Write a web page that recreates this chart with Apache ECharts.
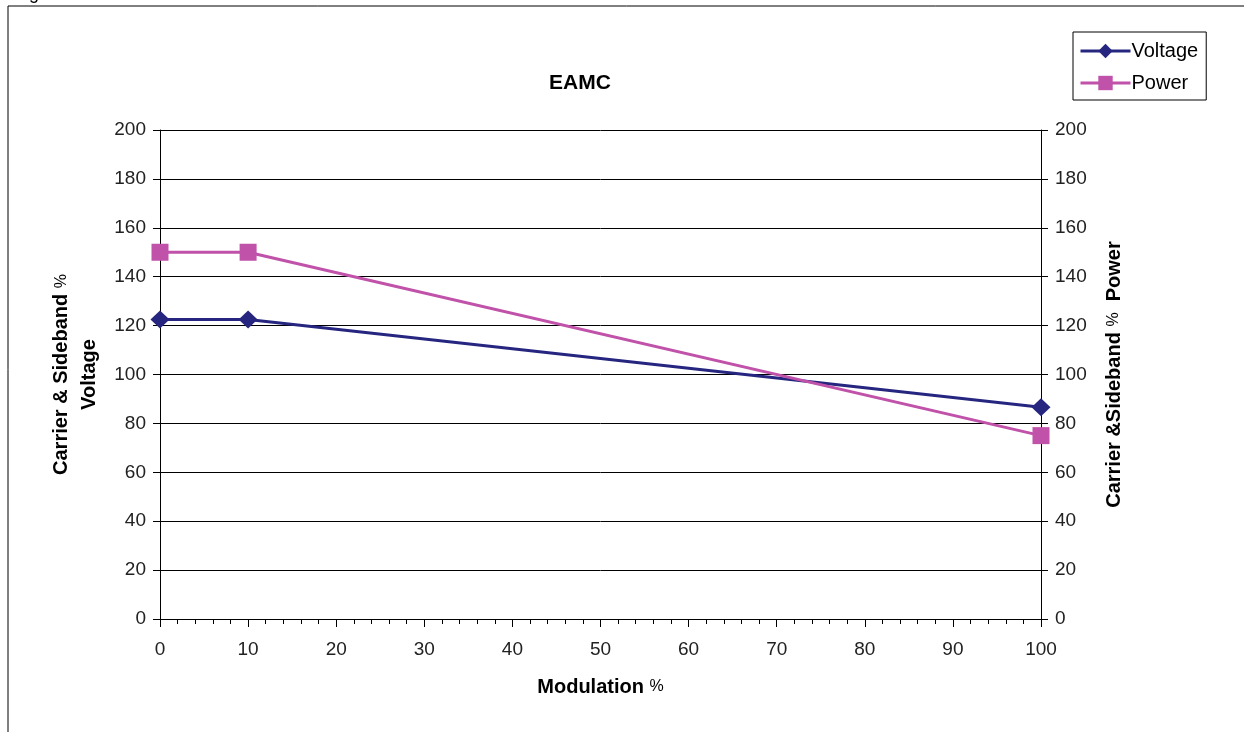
<!DOCTYPE html>
<html>
<head>
<meta charset="utf-8">
<script src="https://cdn.jsdelivr.net/npm/echarts@6/dist/echarts.min.js"></script>
<style>
  html, body { margin: 0; padding: 0; background: #fff; }
  #chart { width: 1244px; height: 732px; }
</style>
</head>
<body>
<div id="chart"></div>
<script>
// values
const modulation = [0, 10, 100];
const voltage = [122.5, 122.5, 86.6];
const power = [150, 150, 75];
const seriesNames = ['Voltage', 'Power'];

const chart = echarts.init(document.getElementById('chart'));

const font = 'Liberation Sans, Arial, sans-serif';
const pct = { fontWeight: 'normal', fontSize: 16, fontFamily: font, color: '#000' };

function yAxis(pos, name, gap) {
  return {
    type: 'value',
    position: pos,
    min: 0,
    max: 200,
    interval: 20,
    name: name,
    nameLocation: 'middle',
    nameRotate: 90,
    nameGap: gap,
    nameTextStyle: {
      color: '#000', fontFamily: font, fontSize: 20, fontWeight: 'bold', lineHeight: 28,
      rich: { p: pct }
    },
    axisLine: { show: true, lineStyle: { color: '#000', width: 1 } },
    axisTick: { show: true, length: 7, lineStyle: { color: '#000' } },
    axisLabel: { color: '#222', fontFamily: font, fontSize: 19, margin: 14 },
    splitLine: { show: pos === 'left', lineStyle: { color: '#000', width: 1 } }
  };
}

chart.setOption({
  animation: false,
  graphic: [
    {
      type: 'rect',
      shape: { x: 8, y: 6, width: 1260, height: 760 },
      style: { fill: 'none', stroke: '#000', lineWidth: 1 }
    },
    {
      type: 'text',
      x: 14,
      y: -15,
      style: { text: 'Fig', font: '18px ' + font, fill: '#000' }
    },
    {
      type: 'text',
      x: 580,
      y: 83,
      style: {
        text: 'EAMC', font: 'bold 21px ' + font, fill: '#000',
        align: 'center', verticalAlign: 'middle'
      }
    }
  ],
  legend: {
    orient: 'vertical',
    left: 1073,
    top: 32,
    padding: [9, 8, 7, 6],
    itemGap: 12,
    itemWidth: 50,
    itemHeight: 18,
    borderColor: '#000',
    borderWidth: 1,
    borderRadius: 0,
    lineStyle: { width: 3 },
    textStyle: { fontFamily: font, fontSize: 20, color: '#000', padding: [0, 0, 0, -4] },
    data: seriesNames
  },
  grid: { left: 160, right: 203, top: 130, bottom: 113, containLabel: false },
  xAxis: {
    type: 'value',
    min: 0,
    max: 100,
    interval: 10,
    name: 'Modulation {p|%}',
    nameLocation: 'middle',
    nameGap: 58,
    nameTextStyle: {
      color: '#000', fontFamily: font, fontSize: 20, fontWeight: 'bold',
      rich: { p: pct }
    },
    axisLine: { show: true, onZero: false, lineStyle: { color: '#000', width: 1 } },
    axisTick: { show: true, length: 8, lineStyle: { color: '#000' } },
    minorTick: { show: true, splitNumber: 5, length: 5, lineStyle: { color: '#000' } },
    axisLabel: { color: '#222', fontFamily: font, fontSize: 19, margin: 21 },
    splitLine: { show: false }
  },
  yAxis: [
    yAxis('left', 'Carrier & Sideband {p|%}\nVoltage', 55),
    yAxis('right', 'Carrier &Sideband {p|%}  Power', 59)
  ],
  series: [
    {
      name: seriesNames[0],
      type: 'line',
      yAxisIndex: 0,
      data: modulation.map((m, i) => [m, voltage[i]]),
      symbol: 'diamond',
      symbolSize: [19, 18],
      lineStyle: { color: '#262680', width: 3 },
      itemStyle: { color: '#262680' }
    },
    {
      name: seriesNames[1],
      type: 'line',
      yAxisIndex: 0,
      data: modulation.map((m, i) => [m, power[i]]),
      symbol: 'rect',
      symbolSize: 17,
      lineStyle: { color: '#c052aa', width: 3 },
      itemStyle: { color: '#c052aa' }
    }
  ]
});
</script>
</body>
</html>
